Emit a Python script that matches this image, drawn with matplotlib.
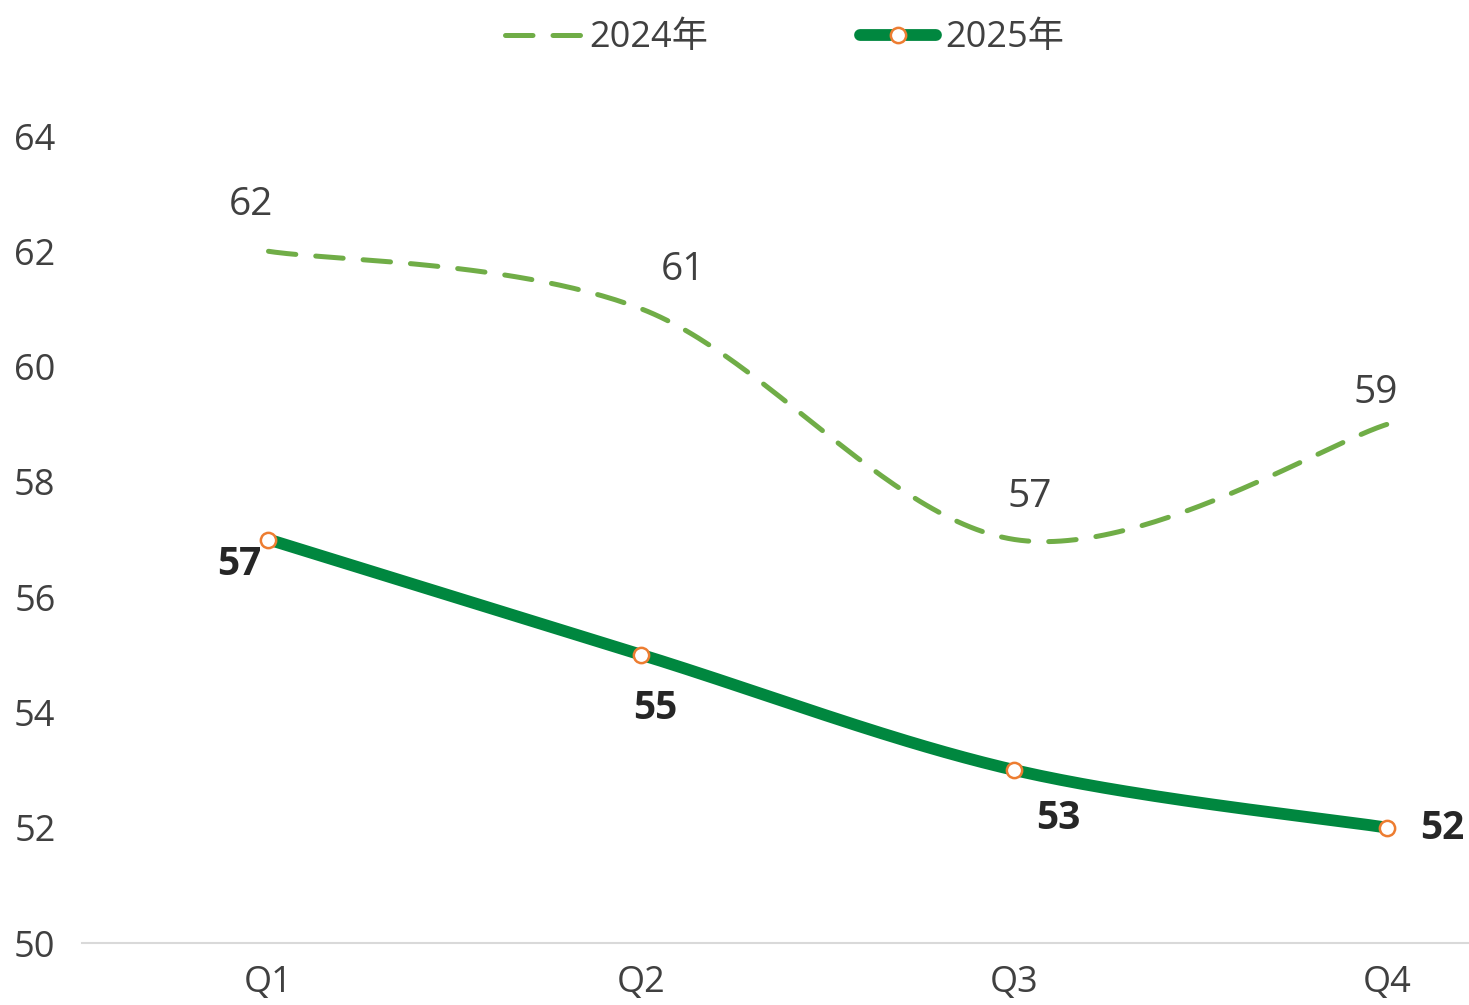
import numpy as np
import matplotlib.pyplot as plt
from matplotlib.lines import Line2D

plt.rcParams['font.family'] = ['Open Sans', 'Noto Sans CJK SC', 'DejaVu Sans']

# data
quarters = ['Q1', 'Q2', 'Q3', 'Q4']
sales_2024 = [62, 61, 57, 59]
sales_2025 = [57, 55, 53, 52]
y_ticks = [50, 52, 54, 56, 58, 60, 62, 64]

c2024 = '#70AD47'
c2025 = '#00873F'
c_marker = '#ED7D31'
c_text = '#404040'


def smooth(xs, ys, n=60):
    # excel-like smoothed line: cubic bezier with catmull-rom control points
    p = np.column_stack([xs, ys]).astype(float)
    out = []
    for i in range(len(p) - 1):
        p0 = p[i - 1] if i > 0 else p[i]
        p3 = p[i + 2] if i + 2 < len(p) else p[i + 1]
        c1 = p[i] + (p[i + 1] - p0) / 6
        c2 = p[i + 1] - (p3 - p[i]) / 6
        t = np.linspace(0, 1, n)[:, None]
        seg = ((1 - t) ** 3 * p[i] + 3 * (1 - t) ** 2 * t * c1
               + 3 * (1 - t) * t ** 2 * c2 + t ** 3 * p[i + 1])
        out.append(seg if i == 0 else seg[1:])
    out = np.vstack(out)
    return out[:, 0], out[:, 1]


fig = plt.figure(figsize=(14.69, 10.05), dpi=100)
ax = fig.add_axes([82 / 1469, 62 / 1005, 1386 / 1469, 807 / 1005])

x = np.arange(len(quarters))

sx, sy = smooth(x, sales_2024)
ax.plot(sx, sy, color=c2024, lw=3.6, dashes=(5.5, 4.0),
        dash_capstyle='round', clip_on=False)

sx, sy = smooth(x, sales_2025)
ax.plot(sx, sy, color=c2025, lw=8.5, solid_capstyle='round', clip_on=False)
ax.plot(x, sales_2025, ls='none', marker='o', ms=11, mfc='white',
        mec=c_marker, mew=1.8, clip_on=False, zorder=5)

# data labels
off_2024 = [(-18, 46), (42, 39), (15, 43), (-12, 31)]
for xi, v, (dx, dy) in zip(x, sales_2024, off_2024):
    ax.annotate(str(v), (xi, v), xytext=(dx, dy), textcoords='offset pixels',
                ha='center', va='center', fontsize=28, color=c_text)

off_2025 = [(-29, -25), (14, -54), (44, -48), (55, -1)]
for xi, v, (dx, dy) in zip(x, sales_2025, off_2025):
    ax.annotate(str(v), (xi, v), xytext=(dx, dy), textcoords='offset pixels',
                ha='center', va='center', fontsize=28, fontweight='bold',
                color='#262626')

ax.set_xlim(-0.5, 3.216)
ax.set_ylim(50, 64)
ax.set_xticks(x)
ax.set_xticklabels(quarters)
ax.set_yticks(y_ticks)
ax.tick_params(length=0, labelsize=26, labelcolor=c_text)
ax.tick_params(axis='y', pad=19)
ax.tick_params(axis='x', pad=16)

for s in ['top', 'right', 'left']:
    ax.spines[s].set_visible(False)
ax.spines['bottom'].set_color('#D9D9D9')
ax.spines['bottom'].set_linewidth(1.5)

handles = [
    Line2D([], [], color=c2024, lw=3.6, dashes=(5.5, 4.0), dash_capstyle='round'),
    Line2D([], [], color=c2025, lw=8.5, solid_capstyle='round', marker='o',
           ms=11, mfc='white', mec=c_marker, mew=1.8),
]
fig.legend(handles, ['2024年', '2025年'], loc='upper center',
           bbox_to_anchor=(0.534, 1.012), ncol=2, frameon=False, fontsize=26,
           handlelength=2.1, handletextpad=0.25, columnspacing=4.2,
           labelcolor=c_text)

fig.savefig('out.png', dpi=100)
